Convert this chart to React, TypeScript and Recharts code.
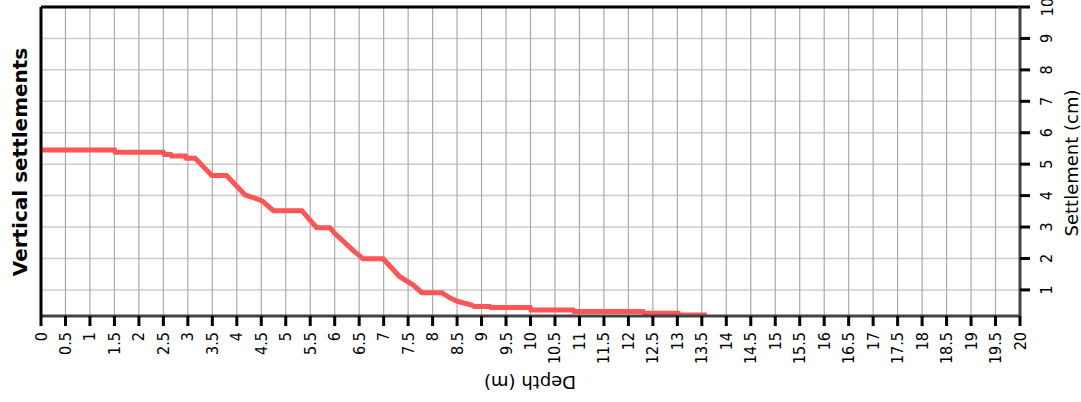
import React from 'react';
import { LineChart, Line, XAxis, YAxis, CartesianGrid } from 'recharts';

// depth (m) and settlement (cm)
const depth = [
  0, 1.5, 1.52, 2.5, 2.52, 2.65, 2.67, 2.95, 2.97, 3.15, 3.49, 3.79, 4.17, 4.27, 4.37,
  4.51, 4.75, 5.33, 5.63, 5.9, 6.0, 6.38, 6.58, 6.99, 7.33, 7.6, 7.78, 8.19, 8.36, 8.52,
  8.8, 8.85, 9.17, 9.19, 9.99, 10.01, 10.87, 10.89, 12.3, 12.32, 13.02, 13.04, 13.6,
];
const settlement = [
  5.45, 5.45, 5.38, 5.38, 5.31, 5.31, 5.26, 5.26, 5.19, 5.19, 4.64, 4.64, 4.02, 3.97, 3.92,
  3.84, 3.52, 3.52, 2.98, 2.98, 2.8, 2.25, 1.99, 1.99, 1.42, 1.16, 0.91, 0.91, 0.74, 0.63,
  0.52, 0.47, 0.47, 0.44, 0.44, 0.36, 0.36, 0.31, 0.31, 0.26, 0.26, 0.2, 0.2,
];

const depthTicks = [
  0, 0.5, 1, 1.5, 2, 2.5, 3, 3.5, 4, 4.5, 5, 5.5, 6, 6.5, 7, 7.5, 8, 8.5, 9, 9.5, 10,
  10.5, 11, 11.5, 12, 12.5, 13, 13.5, 14, 14.5, 15, 15.5, 16, 16.5, 17, 17.5, 18, 18.5,
  19, 19.5, 20,
];
const settlementTicks = [1, 2, 3, 4, 5, 6, 7, 8, 9, 10];

const data = depth.map((d, i) => ({ depth: d, settlement: settlement[i] }));

const FONT = '"DejaVu Sans", Verdana, sans-serif';
const TICK_FONT = '"DejaVu Sans Condensed", "Liberation Sans", sans-serif';

const DepthTick = (props: any) => {
  const { x, y, payload } = props;
  return (
    <text
      x={x}
      y={y}
      transform={`rotate(-90, ${x}, ${y})`}
      textAnchor="end"
      dominantBaseline="central"
      fontFamily={TICK_FONT}
      fontSize={16}
      fill="#000"
    >
      {payload.value}
    </text>
  );
};

const SettlementTick = (props: any) => {
  const { x, y, payload } = props;
  const tx = x + 15;
  return (
    <text
      x={tx}
      y={y}
      transform={`rotate(-90, ${tx}, ${y})`}
      textAnchor="middle"
      dominantBaseline="central"
      fontFamily={TICK_FONT}
      fontSize={16}
      fill="#000"
    >
      {payload.value}
    </text>
  );
};

export default function App() {
  return (
    <div style={{ position: 'absolute', left: 0, top: 0, background: '#fff' }}>
      <LineChart
        width={1081}
        height={402}
        data={data}
        margin={{ top: 0, right: 0, bottom: 0, left: 0 }}
      >
        <CartesianGrid
          xAxisId="d"
          yAxisId="s"
          vertical={false}
          stroke="#cccccc"
          strokeWidth={1.5}
        />
        <CartesianGrid
          xAxisId="d"
          yAxisId="s"
          horizontal={false}
          stroke="#aaaaaa"
          strokeWidth={1.2}
        />
        <XAxis
          xAxisId="top"
          orientation="top"
          dataKey="depth"
          type="number"
          domain={[0, 20]}
          height={7}
          tick={false}
          tickLine={false}
          axisLine={{ stroke: '#000', strokeWidth: 3 }}
        />
        <XAxis
          xAxisId="d"
          dataKey="depth"
          type="number"
          domain={[0, 20]}
          ticks={depthTicks}
          interval={0}
          height={86}
          tickSize={10}
          tickMargin={6}
          tick={<DepthTick />}
          tickLine={{ stroke: '#000', strokeWidth: 3 }}
          axisLine={{ stroke: '#444', strokeWidth: 3 }}
          label={{
            content: () => (
              <text
                x={530}
                y={382}
                transform="rotate(180, 530, 382)"
                textAnchor="middle"
                dominantBaseline="central"
                fontFamily={FONT}
                fontSize={18}
                fill="#000"
              >
                Depth (m)
              </text>
            ),
          }}
        />
        <YAxis
          yAxisId="left"
          orientation="left"
          type="number"
          domain={[0.17, 10]}
          width={41}
          tick={false}
          tickLine={false}
          axisLine={{ stroke: '#000', strokeWidth: 3 }}
          label={{
            content: () => (
              <text
                x={20}
                y={162}
                transform="rotate(-90, 20, 162)"
                textAnchor="middle"
                dominantBaseline="central"
                fontFamily={FONT}
                fontWeight="bold"
                fontSize={20}
                fill="#000"
              >
                Vertical settlements
              </text>
            ),
          }}
        />
        <YAxis
          yAxisId="s"
          orientation="right"
          type="number"
          domain={[0.17, 10]}
          ticks={settlementTicks}
          interval={0}
          allowDataOverflow
          width={61}
          tickSize={10}
          tickMargin={2}
          tick={<SettlementTick />}
          tickLine={{ stroke: '#000', strokeWidth: 3 }}
          axisLine={{ stroke: '#444', strokeWidth: 3 }}
          label={{
            content: () => (
              <text
                x={1071}
                y={163}
                transform="rotate(-90, 1071, 163)"
                textAnchor="middle"
                dominantBaseline="central"
                fontFamily={FONT}
                fontSize={18}
                fill="#000"
              >
                Settlement (cm)
              </text>
            ),
          }}
        />
        <Line
          xAxisId="d"
          yAxisId="s"
          dataKey="settlement"
          type="linear"
          stroke="#ff5555"
          strokeWidth={5}
          dot={false}
          isAnimationActive={false}
        />
      </LineChart>
    </div>
  );
}
